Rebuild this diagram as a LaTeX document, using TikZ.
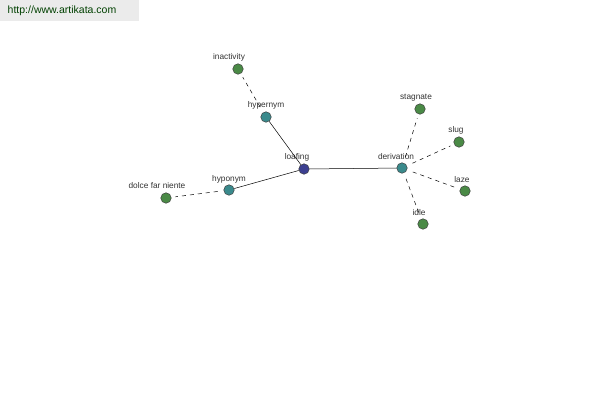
\documentclass[tikz,border=0pt]{standalone}
\usepackage{fontspec}
\setmainfont{Liberation Sans}
\usetikzlibrary{calc}

\definecolor{rootblue}{HTML}{3C3F90}
\definecolor{relteal}{HTML}{3A8A8C}
\definecolor{leafgreen}{HTML}{4A8A46}

\begin{document}
\begin{tikzpicture}[x=1pt, y=-1pt,
    word/.style={circle, draw=black!75, line width=0.5pt, minimum size=10.5pt, inner sep=0pt},
    root/.style={word, fill=rootblue},
    rel/.style={word, fill=relteal},
    leaf/.style={word, fill=leafgreen},
    tag/.style={font=\fontsize{8.3}{9}\selectfont, inner sep=0.5pt, text=black!80},
    link/.style={black, line width=0.5pt},
    weak/.style={black, line width=0.5pt, dashed, dash pattern=on 4pt off 4pt, shorten >=4pt, shorten <=6pt}]
    \useasboundingbox (0, 0) rectangle (600, 400);
    \fill[black!8] (0, 0) rectangle (139, 21);
    \node[tag, font=\fontsize{10.5}{11}\selectfont, text=green!25!black] (site) at (62, 11) {http://www.artikata.com};

    \node[root] (loafing) at (304, 169) {};
    \node[rel] (hypernym) at (266, 117) {};
    \node[rel] (hyponym) at (229, 190) {};
    \node[rel] (derivation) at (402, 168) {};
    \node[leaf] (inactivity) at (238, 69) {};
    \node[leaf] (dolce) at (166, 198) {};
    \node[leaf] (stagnate) at (420, 109) {};
    \node[leaf] (slug) at (459, 142) {};
    \node[leaf] (laze) at (465, 191) {};
    \node[leaf] (idle) at (423, 224) {};

    \node[tag] at (297, 157) {loafing};
    \node[tag] at (266, 105) {hypernym};
    \node[tag] at (229, 179) {hyponym};
    \node[tag] at (396, 157) {derivation};
    \node[tag] at (229, 57) {inactivity};
    \node[tag] at (157, 186) {dolce far niente};
    \node[tag] at (416, 98) {stagnate};
    \node[tag] at (456, 130) {slug};
    \node[tag] at (462, 180) {laze};
    \node[tag] at (419, 213) {idle};

    \draw[link] (loafing) -- (hypernym);
    \draw[link] (loafing) -- (hyponym);
    \draw[link] (loafing) -- (derivation);
    \draw[weak] (hypernym) -- (inactivity);
    \draw[weak] (hyponym) -- (dolce);
    \draw[weak] (derivation) -- (stagnate);
    \draw[weak] (derivation) -- (slug);
    \draw[weak] (derivation) -- (laze);
    \draw[weak] (derivation) -- (idle);
\end{tikzpicture}
\end{document}
